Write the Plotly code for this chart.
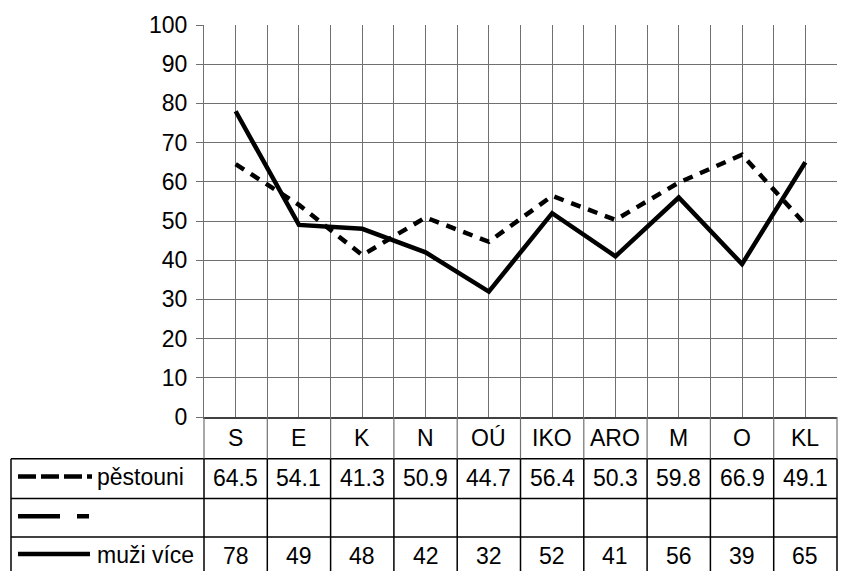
import plotly.graph_objects as go

categories = ["S", "E", "K", "N", "OÚ", "IKO", "ARO", "M", "O", "KL"]
pestouni = [64.5, 54.1, 41.3, 50.9, 44.7, 56.4, 50.3, 59.8, 66.9, 49.1]
muzi_vice = [78, 49, 48, 42, 32, 52, 41, 56, 39, 65]
prazdna_rada = [None, None, None, None, None, None, None, None, None, None]
series_names = ["pěstouni", "", "muži více"]
y_ticks = [0, 10, 20, 30, 40, 50, 60, 70, 80, 90, 100]

W, H = 859, 571
ML, MR, MT, MB = 204, 22, 22, 154
PW = W - ML - MR
PH = H - MT - MB

def px2x(px):
    return (px - ML) / PW

def py2y(py):
    return (H - MB - py) / PH

FONT = "Liberation Sans, Arial, sans-serif"
FS = 23
GRID = "#707070"

n = len(categories)
xs = [i + 0.5 for i in range(n)]

fig = go.Figure()
fig.add_trace(go.Scatter(x=xs, y=pestouni, mode="lines", name=series_names[0],
                         line=dict(color="black", width=4.5, dash="10px,8px")))
fig.add_trace(go.Scatter(x=xs, y=prazdna_rada, mode="lines", name=series_names[1],
                         line=dict(color="black", width=4.5, dash="42px,16px,12px,16px")))
fig.add_trace(go.Scatter(x=xs, y=muzi_vice, mode="lines", name=series_names[2],
                         line=dict(color="black", width=4.5)))

shapes = []
y_rows = [459, 499, 538]
y_bottom = 600
for py in y_rows:
    shapes.append(dict(type="line", xref="paper", yref="paper",
                       x0=px2x(11), x1=1, y0=py2y(py), y1=py2y(py),
                       line=dict(color="black", width=1.5)))
shapes.append(dict(type="line", xref="paper", yref="paper",
                   x0=px2x(11), x1=px2x(11), y0=py2y(459), y1=py2y(y_bottom),
                   line=dict(color="black", width=1.5)))
for i in range(n + 1):
    xp = i / n
    shapes.append(dict(type="line", xref="paper", yref="paper",
                       x0=xp, x1=xp, y0=0, y1=py2y(459),
                       line=dict(color=GRID, width=1.2)))
    shapes.append(dict(type="line", xref="paper", yref="paper",
                       x0=xp, x1=xp, y0=py2y(459), y1=py2y(y_bottom),
                       line=dict(color="black", width=1.5)))
shapes.append(dict(type="line", xref="paper", yref="paper",
                   x0=px2x(18), x1=px2x(92), y0=py2y(477), y1=py2y(477),
                   line=dict(color="black", width=4.5, dash="18px,5px,18px,5px,18px,5px,5px,20px")))
shapes.append(dict(type="line", xref="paper", yref="paper",
                   x0=px2x(18), x1=px2x(90), y0=py2y(517), y1=py2y(517),
                   line=dict(color="black", width=4.5, dash="42px,17px,12px,40px")))
shapes.append(dict(type="line", xref="paper", yref="paper",
                   x0=px2x(18), x1=px2x(90), y0=py2y(555), y1=py2y(555),
                   line=dict(color="black", width=4.5)))

annotations = []
for i, c in enumerate(categories):
    annotations.append(dict(x=xs[i], y=py2y(438), xref="x", yref="paper",
                            text=c, showarrow=False, xanchor="center", yanchor="middle",
                            font=dict(size=FS, color="black", family=FONT)))
    annotations.append(dict(x=xs[i], y=py2y(478), xref="x", yref="paper",
                            text=str(pestouni[i]), showarrow=False, xanchor="center", yanchor="middle",
                            font=dict(size=FS, color="black", family=FONT)))
    annotations.append(dict(x=xs[i], y=py2y(557), xref="x", yref="paper",
                            text=str(muzi_vice[i]), showarrow=False, xanchor="center", yanchor="middle",
                            font=dict(size=FS, color="black", family=FONT)))
annotations.append(dict(x=px2x(95), y=py2y(477), xref="paper", yref="paper",
                        text=series_names[0], showarrow=False, xanchor="left", yanchor="middle",
                        font=dict(size=FS, color="black", family=FONT)))
annotations.append(dict(x=px2x(95), y=py2y(556), xref="paper", yref="paper",
                        text=series_names[2], showarrow=False, xanchor="left", yanchor="middle",
                        font=dict(size=FS, color="black", family=FONT)))

fig.update_layout(
    width=W, height=H,
    margin=dict(l=ML, r=MR, t=MT, b=MB, pad=0),
    paper_bgcolor="white", plot_bgcolor="white",
    showlegend=False,
    shapes=shapes, annotations=annotations,
    xaxis=dict(range=[0, n], tick0=0, dtick=0.5, showgrid=True, gridcolor=GRID, gridwidth=1.2,
               showticklabels=False, ticks="", zeroline=False,
               showline=True, linecolor="#404040", linewidth=1.5),
    yaxis=dict(range=[0, 100], tickvals=y_ticks, showgrid=True, gridcolor=GRID, gridwidth=1.2,
               ticks="outside", ticklen=7, tickcolor=GRID, tickwidth=1.2,
               showline=True, linecolor=GRID, linewidth=1.2, zeroline=False,
               ticklabelstandoff=4,
               tickfont=dict(size=FS, color="black", family=FONT)),
)

fig.write_html("out.html", config={"displayModeBar": False},
               post_script="document.body.style.margin='0px';document.body.style.overflow='hidden';")
